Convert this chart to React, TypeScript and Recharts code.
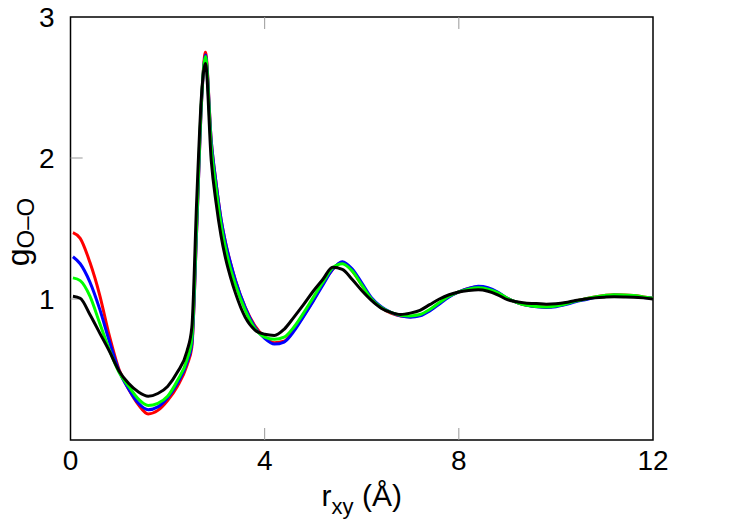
import { LineChart, Line, XAxis, YAxis, ReferenceArea, ReferenceLine } from "recharts";

const rValues = [
  0.05, 0.2, 0.4, 0.6, 0.8, 1.0, 1.2, 1.4, 1.6, 1.8, 2.0, 2.2, 2.4, 2.5, 2.6, 2.7, 2.78, 2.9, 3.0, 3.1, 3.2, 3.3,
  3.4, 3.6, 3.8, 4.0, 4.2, 4.4, 4.6, 4.8, 5.0, 5.2, 5.4, 5.6, 5.8, 6.0, 6.2, 6.4, 6.6, 6.8, 7.0, 7.2, 7.4, 7.6,
  7.8, 8.0, 8.2, 8.4, 8.6, 8.8, 9.0, 9.2, 9.4, 9.6, 9.8, 10.0, 10.2, 10.4, 10.6, 10.8, 11.0, 11.2, 11.4, 11.6,
  11.8, 12.0,
];

const redG = [
  1.47, 1.43, 1.26, 1.03, 0.74, 0.5, 0.36, 0.25, 0.185, 0.21, 0.28, 0.38, 0.53, 0.66, 1.5, 2.4, 2.75, 2.12, 1.82,
  1.57, 1.39, 1.25, 1.13, 0.94, 0.81, 0.73, 0.69, 0.7, 0.78, 0.88, 0.99, 1.11, 1.21, 1.26, 1.2, 1.1, 1.0, 0.94,
  0.9, 0.88, 0.875, 0.885, 0.92, 0.97, 1.02, 1.05, 1.075, 1.085, 1.075, 1.045, 1.005, 0.975, 0.955, 0.947, 0.944,
  0.95, 0.965, 0.985, 1.0, 1.015, 1.025, 1.031, 1.029, 1.024, 1.015, 1.005,
];

const blueG = [
  1.3, 1.25, 1.12, 0.93, 0.7, 0.49, 0.36, 0.26, 0.215, 0.235, 0.3, 0.4, 0.55, 0.68, 1.5, 2.4, 2.73, 2.12, 1.82,
  1.57, 1.39, 1.25, 1.13, 0.94, 0.8, 0.72, 0.68, 0.695, 0.77, 0.875, 0.985, 1.1, 1.21, 1.265, 1.215, 1.115, 1.01,
  0.945, 0.905, 0.88, 0.87, 0.88, 0.915, 0.965, 1.015, 1.05, 1.075, 1.09, 1.08, 1.05, 1.005, 0.975, 0.955, 0.945,
  0.94, 0.945, 0.96, 0.98, 0.995, 1.01, 1.02, 1.026, 1.024, 1.02, 1.01, 1.005,
];

const greenG = [
  1.15, 1.13, 1.02, 0.83, 0.64, 0.48, 0.38, 0.29, 0.245, 0.26, 0.31, 0.42, 0.57, 0.72, 1.55, 2.42, 2.72, 2.08,
  1.78, 1.53, 1.35, 1.21, 1.1, 0.92, 0.79, 0.73, 0.715, 0.73, 0.8, 0.9, 1.01, 1.12, 1.22, 1.25, 1.2, 1.1, 1.0,
  0.94, 0.905, 0.885, 0.88, 0.89, 0.925, 0.975, 1.02, 1.05, 1.07, 1.08, 1.07, 1.045, 1.005, 0.975, 0.955, 0.947,
  0.944, 0.95, 0.965, 0.985, 1.0, 1.015, 1.025, 1.031, 1.029, 1.024, 1.015, 1.005,
];

const blackG = [
  1.02, 1.005, 0.89, 0.76, 0.63, 0.49, 0.4, 0.34, 0.31, 0.33, 0.38, 0.48, 0.63, 0.8, 1.7, 2.45, 2.67, 1.98, 1.68,
  1.45, 1.28, 1.15, 1.04, 0.87, 0.78, 0.75, 0.742, 0.785, 0.87, 0.96, 1.055, 1.14, 1.225, 1.21, 1.14, 1.06, 0.99,
  0.935, 0.905, 0.89, 0.9, 0.92, 0.96, 1.0, 1.03, 1.05, 1.06, 1.065, 1.055, 1.03, 0.995, 0.98, 0.97, 0.968, 0.963,
  0.966, 0.975, 0.99, 1.0, 1.008, 1.013, 1.016, 1.015, 1.013, 1.008, 1.0,
];

const xTicks = [0, 4, 8, 12];
const yTicks = [1, 2, 3];
const innerXTicks = [4, 8];
const innerYTicks = [1, 2];

const data = rValues.map((r, i) => ({
  r,
  red: redG[i],
  blue: blueG[i],
  green: greenG[i],
  black: blackG[i],
}));

const FONT = "'Liberation Sans', Arial, Helvetica, sans-serif";

export default function App() {
  return (
    <div style={{ position: "absolute", left: 0, top: 0, fontFamily: FONT }}>
      <LineChart width={750} height={525} data={data} margin={{ top: 17, right: 97, left: 20, bottom: 35 }}>
        <XAxis
          dataKey="r"
          type="number"
          domain={[0, 12]}
          ticks={xTicks}
          interval={0}
          tickLine={false}
          axisLine={false}
          tickSize={4}
          tickMargin={6}
          height={50}
          tick={{ fontSize: 28, fill: "#000", fontFamily: FONT }}
          label={{
            content: (props: any) => {
              const vb = props.viewBox;
              return (
                <text x={vb.x + vb.width / 2} y={506} textAnchor="middle" fontSize={30} fontFamily={FONT} fill="#000">
                  r
                  <tspan fontSize={22} dy={8}>xy</tspan>
                  <tspan dy={-8}> (Å)</tspan>
                </text>
              );
            },
          }}
        />
        <YAxis
          type="number"
          domain={[0, 3]}
          ticks={yTicks}
          interval={0}
          tickLine={false}
          axisLine={false}
          tickSize={8}
          tickMargin={8}
          width={50.5}
          tick={{ fontSize: 28, fill: "#000", fontFamily: FONT }}
          label={{
            content: () => (
              <text
                x={29}
                y={232}
                transform="rotate(-90 29 232)"
                textAnchor="middle"
                fontSize={32}
                fontFamily={FONT}
                fill="#000"
              >
                g
                <tspan fontSize={24} dy={5}>O–O</tspan>
              </text>
            ),
          }}
        />
        {innerYTicks.map((v) => (
          <ReferenceLine
            key={"y" + v}
            segment={[
              { x: 0, y: v },
              { x: 0.25, y: v },
            ]}
            stroke="#999"
            strokeWidth={1}
          />
        ))}
        {innerXTicks.map((v) => (
          <ReferenceLine
            key={"xb" + v}
            segment={[
              { x: v, y: 0 },
              { x: v, y: 0.085 },
            ]}
            stroke="#999"
            strokeWidth={1}
          />
        ))}
        {innerXTicks.map((v) => (
          <ReferenceLine
            key={"xt" + v}
            segment={[
              { x: v, y: 3 },
              { x: v, y: 2.915 },
            ]}
            stroke="#999"
            strokeWidth={1}
          />
        ))}
        <ReferenceArea x1={0} x2={12} y1={0} y2={3} fill="none" stroke="#000" strokeWidth={1.5} fillOpacity={0} />
        <Line type="monotone" dataKey="red" stroke="#ff0000" strokeWidth={3} dot={false} isAnimationActive={false} />
        <Line type="monotone" dataKey="blue" stroke="#0000ff" strokeWidth={3} dot={false} isAnimationActive={false} />
        <Line type="monotone" dataKey="green" stroke="#00ff00" strokeWidth={3} dot={false} isAnimationActive={false} />
        <Line type="monotone" dataKey="black" stroke="#000000" strokeWidth={3} dot={false} isAnimationActive={false} />
      </LineChart>
    </div>
  );
}
